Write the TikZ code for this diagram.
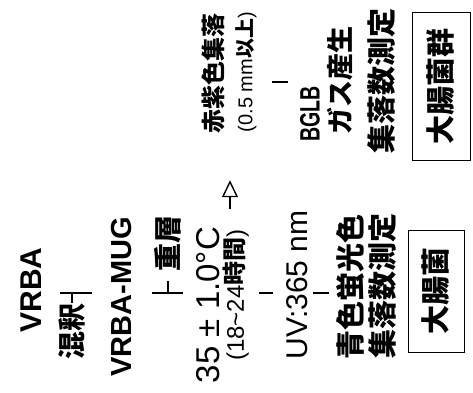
\documentclass[tikz,border=0pt]{standalone}
\usepackage{fontspec}
\setmainfont{Liberation Sans}
\newfontfamily\jp{Noto Sans CJK JP}
\usetikzlibrary{arrows.meta}
\newcommand\fsz[1]{\fontsize{#1}{#1}\selectfont}
\tikzset{
  txt/.style   = {rotate=90, inner sep=0pt, font=\fsz{#1}},
  txt/.default = 28,
  bld/.style   = {txt=#1, font=\fsz{#1}\bfseries},
  jtx/.style   = {txt=#1, font=\fsz{#1}\jp\bfseries},
  res/.style   = {rotate=90, draw, line width=0.9pt, inner sep=0pt,
                  font=\fsz{29}\jp\bfseries, minimum height=56pt},
  bar/.style   = {line width=2.4pt},
  brarr/.style = {-{Triangle[open,length=17pt,width=16pt,line width=1.4pt]}, line width=1.6pt},
}

\begin{document}
\begin{tikzpicture}[x=1pt, y=-1pt]
  \useasboundingbox (0,0) rectangle (473,392);
  % main line
  \node[bld=30] (vrba) at (31,290) {VRBA};
  \node[jtx=28] (mix) at (72,331) {混釈};
  \node[bld=29] (mug) at (122,297) {VRBA-MUG};
  \node[jtx=28] (ovl) at (168,243) {重層};
  \node[txt=33] (temp) at (208,305) {35 ± 1.0°C};
  \node[txt=24] (time) at (236,295) {(18\textasciitilde 24{\jp\bfseries 時間})};
  \node[txt=30] (uv) at (297,285) {UV:365 nm};
  \node[jtx=29] (blue) at (351,287) {青色蛍光色};
  \node[jtx=29] (cnt1) at (383,286) {集落数測定};
  \node[res, minimum width=122pt] (ec) at (436,291) {大腸菌};
  % branch
  \node[jtx=24] (red) at (213,73) {赤紫色集落};
  \node[txt=20] (size) at (246,72) {(0.5 mm{\jp\bfseries 以上})};
  \node[bld=28] (bglb) at (310,114) {\scalebox{0.7}[1]{BGLB}};
  \node[jtx=27] (gas) at (340,80) {ガス産生};
  \node[jtx=29] (cnt2) at (382,81) {集落数測定};
  \node[res, minimum width=148pt, minimum height=58pt] (col) at (441,86) {大腸菌群};

  \coordinate (ax) at (0,293);
  \coordinate (ay) at (0,82);
  \coordinate (br) at (230,0);

  \draw[bar, shorten <=18pt, shorten >=20pt] (vrba.south |- ax) -- (mug.north |- ax);
  \draw[bar] (mix.east) -- (mix.east |- ax);
  \draw[bar, shorten <=20pt, shorten >=13pt] (mug.south |- ax) -- (temp.north |- ax);
  \draw[bar, shorten <=10pt] (ovl.west) -- (ovl.west |- ax);
  \draw[bar, shorten <=10pt, shorten >=13pt] (time.south |- ax) -- (uv.north |- ax);
  \draw[bar, shorten <=5pt, shorten >=8pt] (uv.south |- ax) -- (blue.north |- ax);
  \draw[brarr, shorten <=20pt, shorten >=47pt] (br |- time.east) -- (br |- red.west);
  \draw[bar, shorten <=15pt, shorten >=12pt] (size.south |- ay) -- (bglb.north |- ay);
\end{tikzpicture}
\end{document}
